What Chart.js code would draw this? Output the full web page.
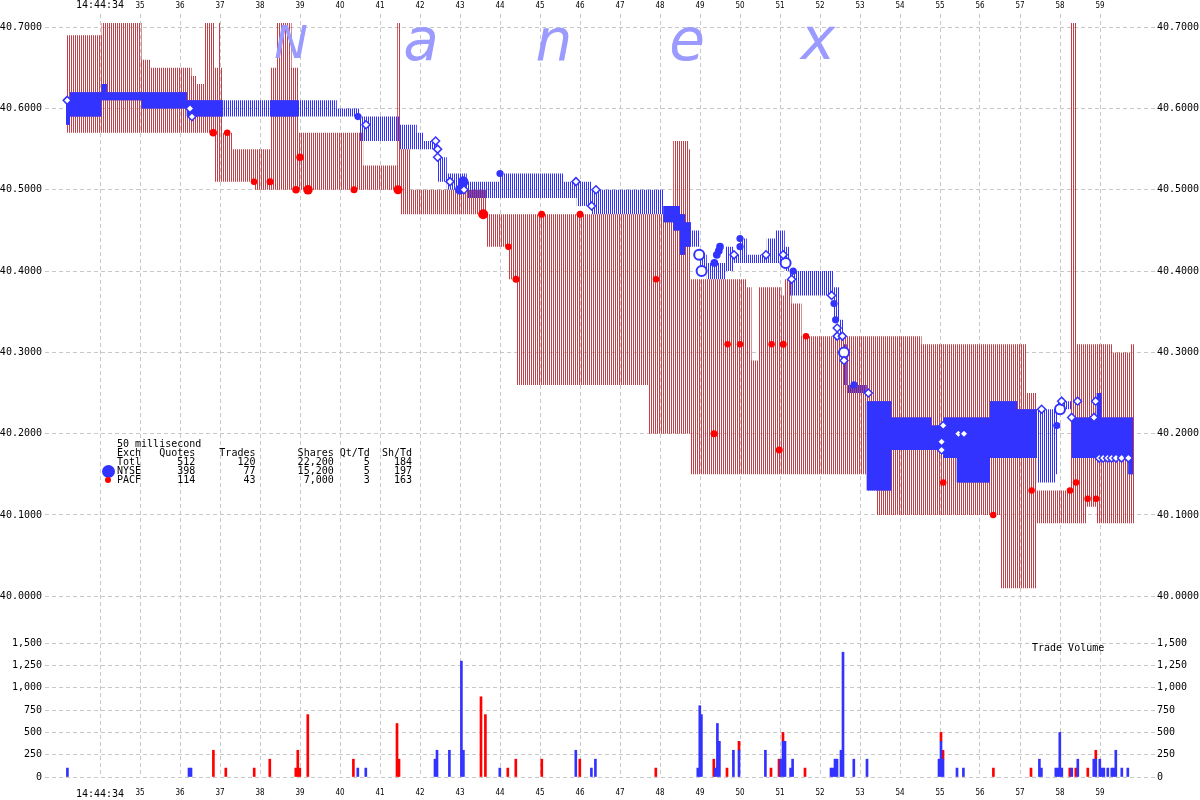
<!DOCTYPE html>
<html lang="en">
<head>
<meta charset="UTF-8">
<title>NYSE / PACF quotes and trades 14:44:34</title>
<script src="https://cdn.jsdelivr.net/npm/chart.js"></script>
<style>
  html, body { margin: 0; padding: 0; background: #fff; }
  #wrap { position: relative; width: 1200px; height: 800px; }
  #wrap canvas { position: absolute; left: 0; top: 0; }
  .mark { position: absolute; width: 80px; text-align: center; color: #9a9aff;
          font-family: 'DejaVu Sans', sans-serif; font-style: italic; }
  .txt { position: absolute; margin: 0; color: #000; white-space: pre;
         font: 10px 'DejaVu Sans Mono', monospace; line-height: 9.2px; }
  .dot { position: absolute; border-radius: 50%; }
</style>
</head>
<body>
<div id="wrap">
  <canvas id="chart" width="1200" height="800"></canvas>

  <div class="mark" style="left:251px;top:20px;font-size:45px;line-height:45px">N</div>
  <div class="mark" style="left:381px;top:11px;font-size:58px;line-height:58px">a</div>
  <div class="mark" style="left:514px;top:11px;font-size:58px;line-height:58px">n</div>
  <div class="mark" style="left:647px;top:11px;font-size:58px;line-height:58px">e</div>
  <div class="mark" style="left:778px;top:10px;font-size:58px;line-height:58px">x</div>

  <pre class="txt" style="left:117px;top:438.6px">50 millisecond
Exch   Quotes    Trades       Shares Qt/Td  Sh/Td
Totl      512       120       22,200     5    184
NYSE      398        77       15,200     5    197
PACF      114        43        7,000     3    163</pre>
  <div class="dot" style="left:102px;top:465px;width:13px;height:13px;background:#3333ff"></div>
  <div class="dot" style="left:105px;top:477px;width:6px;height:6px;background:#ff0000"></div>
  <div class="txt" style="left:1032px;top:642.6px">Trade Volume</div>
</div>

<script>
  // time is seconds after 14:44:00
  const secTicks  = [34,35,36,37,38,39,40,41,42,43,44,45,46,47,48,49,50,51,52,53,54,55,56,57,58,59];
  const secLabels = ['14:44:34','35','36','37','38','39','40','41','42','43','44','45','46','47','48','49','50','51','52','53','54','55','56','57','58','59'];
  const priceTicks = [40.0, 40.1, 40.2, 40.3, 40.4, 40.5, 40.6, 40.7];
  const volTicks   = [0, 250, 500, 750, 1000, 1250, 1500];

  // PACF quote (bid / ask) in steps
  const pacfT   = [33.17,34.04,35.04,35.25,36.29,36.42,36.62,36.87,36.95,37.00,37.05,37.30,37.87,38.27,38.42,38.79,38.96,40.58,41.43,41.50,41.75,43.67,44.21,44.42,47.71,48.33,48.70,48.77,50.17,50.29,50.46,51.04,51.12,51.29,51.54,53.42,54.54,56.52,57.15,57.42,58.27,58.40,58.67,58.92,59.32,59.77,59.85];
  const pacfAsk = [40.69,40.705,40.66,40.65,40.64,40.63,40.705,40.65,40.705,40.65,40.57,40.55,40.55,40.65,40.705,40.65,40.57,40.53,40.705,40.55,40.50,40.47,40.47,40.47,40.47,40.56,40.55,40.39,40.38,40.29,40.38,40.37,40.39,40.36,40.32,40.32,40.31,40.31,40.25,40.13,40.705,40.31,40.31,40.31,40.30,40.31,40.31];
  const pacfBid = [40.57,40.57,40.57,40.57,40.57,40.57,40.57,40.51,40.51,40.51,40.51,40.51,40.50,40.50,40.50,40.50,40.50,40.50,40.50,40.47,40.47,40.43,40.39,40.26,40.20,40.20,40.20,40.15,40.15,40.15,40.15,40.15,40.15,40.15,40.15,40.10,40.10,40.01,40.01,40.09,40.09,40.09,40.11,40.09,40.09,40.09,40.09];

  // NYSE quote in steps; dense = quotes packed tight (drawn solid)
  const nyseT     = [33.15,33.25,34.04,34.17,35.04,36.17,37.08,38.25,38.95,39.92,40.50,41.50,41.92,42.08,42.43,42.67,43.17,44.00,45.58,45.92,46.29,48.08,48.33,48.50,48.63,48.77,49.00,49.17,49.63,49.83,50.00,50.17,50.67,50.90,51.12,51.25,52.33,52.48,52.58,52.67,53.17,53.79,54.79,55.08,55.42,56.25,56.93,57.42,57.88,57.95,58.29,58.92,59.04,59.71,59.83];
  const nyseAsk   = [40.61,40.62,40.63,40.62,40.62,40.61,40.61,40.61,40.61,40.60,40.59,40.58,40.57,40.56,40.54,40.52,40.51,40.52,40.51,40.51,40.50,40.48,40.48,40.47,40.46,40.45,40.42,40.41,40.43,40.42,40.44,40.42,40.44,40.45,40.43,40.40,40.38,40.34,40.31,40.26,40.24,40.22,40.21,40.22,40.22,40.24,40.23,40.23,40.23,40.24,40.22,40.25,40.22,40.22,40.22];
  const nyseBid   = [40.58,40.59,40.61,40.61,40.60,40.59,40.59,40.59,40.59,40.59,40.56,40.55,40.55,40.55,40.51,40.50,40.49,40.49,40.49,40.48,40.47,40.46,40.45,40.42,40.43,40.43,40.40,40.39,40.40,40.41,40.41,40.41,40.41,40.41,40.40,40.37,40.34,40.32,40.26,40.25,40.13,40.18,40.18,40.17,40.14,40.17,40.17,40.14,40.15,40.23,40.17,40.17,40.17,40.15,40.15];
  const nyseDense = [1,1,1,1,1,1,0,1,0,0,0,0,0,0,0,0,0,0,0,0,0,1,1,1,1,0,0,0,0,0,0,0,0,0,0,0,0,0,0,0,1,1,1,1,1,1,1,0,0,0,1,1,1,1,1];

  // PACF trades
  const pacfTradeT  = [36.83,37.18,37.85,38.25,38.90,39.00,39.20,40.35,41.45,43.58,44.21,44.40,45.04,46.00,47.90,49.35,49.69,50.00,50.79,51.08,51.65,50.98,55.08,56.33,57.29,58.25,58.40,58.69,58.90];
  const pacfTradeP  = [40.57,40.57,40.51,40.51,40.50,40.54,40.50,40.50,40.50,40.47,40.43,40.39,40.47,40.47,40.39,40.20,40.31,40.31,40.31,40.31,40.32,40.18,40.14,40.10,40.13,40.13,40.14,40.12,40.12];
  const pacfTradeSz = [300,100,100,200,300,300,700,200,600,900,100,200,200,200,100,200,100,100,100,200,100,200,100,100,100,100,100,100,100];

  // NYSE trades: filled, diamond and ring markers
  const nyseFillT  = [40.45,43.00,43.08,44.00,49.36,49.42,49.47,49.50,50.00,50.00,51.33,52.35,52.39,52.85,57.92];
  const nyseFillP  = [40.59,40.50,40.51,40.52,40.41,40.42,40.425,40.43,40.44,40.43,40.40,40.36,40.34,40.26,40.21];
  const nyseFillSz = [100,600,700,100,200,200,200,200,100,100,100,100,100,100,100];
  const nyseDiaT = [33.18,36.25,36.30,40.65,42.39,42.44,42.44,42.75,43.10,45.90,46.29,46.40,49.85,50.65,51.08,51.29,52.29,52.43,52.43,52.56,52.60,53.21,55.08,55.04,55.04,55.46,55.60,57.54,58.04,58.29,58.44,58.89,58.85,58.98,59.08,59.19,59.29,59.40,59.54,59.71];
  const nyseDiaP = [40.61,40.60,40.59,40.58,40.56,40.55,40.54,40.51,40.50,40.51,40.48,40.50,40.42,40.42,40.42,40.39,40.37,40.33,40.32,40.32,40.29,40.25,40.21,40.19,40.18,40.20,40.20,40.23,40.24,40.22,40.24,40.24,40.22,40.17,40.17,40.17,40.17,40.17,40.17,40.17];
  const nyseRingT = [48.98,49.04,51.14,52.60,58.00];
  const nyseRingP = [40.42,40.40,40.41,40.30,40.23];

  // trade volume per 50 ms
  const nyseVolT = [33.21,36.25,36.30,40.47,40.67,42.40,42.45,42.76,43.06,43.11,44.02,45.92,46.31,46.41,48.97,49.02,49.06,49.41,49.46,49.51,49.86,50.00,50.66,51.04,51.10,51.15,51.29,51.34,52.30,52.35,52.40,52.45,52.55,52.60,52.87,53.20,55.00,55.05,55.10,55.45,55.61,57.51,57.56,57.92,57.97,58.02,58.07,58.32,58.47,58.87,58.92,59.02,59.07,59.12,59.22,59.32,59.37,59.42,59.57,59.72];
  const nyseVol  = [100,100,100,100,100,200,300,300,1300,300,100,300,100,200,100,800,700,100,600,400,300,300,300,200,400,400,100,200,100,100,200,200,300,1400,200,200,200,400,200,100,100,200,100,100,100,500,100,100,200,200,200,200,100,100,100,100,100,300,100,100];
  const pacfVolT = [36.86,37.17,37.88,38.27,38.92,38.97,39.02,39.22,40.36,41.45,41.50,43.55,43.66,44.22,44.42,45.07,46.02,47.92,49.37,49.70,50.00,50.80,51.00,51.10,51.65,55.05,55.10,56.36,57.30,58.27,58.42,58.72,58.92];
  const pacfVol  = [300,100,100,200,100,300,100,700,200,600,200,900,700,100,200,200,200,100,200,100,100,100,200,100,100,100,100,100,100,100,100,100,100];

  const xMin = 32.625, xMax = 60.375;
  const pMin = 39.977, pMax = 40.7162;
  const vMax = 1817.5;

  const canvas = document.getElementById('chart');
  const ctx = canvas.getContext('2d');

  // one-pixel vertical hatching, every other column
  function stripes(color, phase) {
    const c = document.createElement('canvas');
    c.width = 2; c.height = 1;
    const g = c.getContext('2d');
    g.fillStyle = color;
    g.fillRect(phase, 0, 1, 1);
    return ctx.createPattern(c, 'repeat');
  }

  const xy = (ts, vs) => ts.map((t, i) => ({x: t, y: vs[i]}));
  const solidAsk = nyseAsk.map((a, i) => nyseDense[i] ? a : nyseBid[i]);

  function band(data, order, fillColor) {
    return {
      type: 'line', data, xAxisID: 'x', yAxisID: 'y', order,
      stepped: true, borderWidth: 0, pointRadius: 0, pointHoverRadius: 0,
      fill: fillColor ? '-1' : false, backgroundColor: fillColor || 'transparent'
    };
  }

  const mono = {family: 'DejaVu Sans Mono', size: 10};
  const narrow = {family: "'Liberation Sans Narrow', 'DejaVu Sans Condensed', sans-serif", size: 8};
  const gridOpts = {color: '#c8c8c8', lineWidth: 1, drawTicks: false};
  const noGrid = {display: false, drawTicks: false};
  const borderOpts = {display: false, dash: [4, 3]};

  function priceAxis(pos, stack, weight, showGrid) {
    return {
      type: 'linear', position: pos, stack, stackWeight: 601, weight,
      min: pMin, max: pMax,
      grid: showGrid ? gridOpts : noGrid, border: borderOpts,
      ticks: {font: mono, color: '#000', autoSkip: false, padding: pos === 'left' ? 3 : 2,
              callback: v => v.toFixed(4)},
      afterBuildTicks: s => { s.ticks = priceTicks.map(v => ({value: v})); },
      afterFit: s => { s.width = 45; }
    };
  }
  function volAxis(pos, stack, weight, showGrid) {
    return {
      type: 'linear', position: pos, stack, stackWeight: 162, weight,
      min: 0, max: vMax, stacked: true,
      grid: showGrid ? gridOpts : noGrid, border: borderOpts,
      ticks: {font: mono, color: '#000', autoSkip: false, padding: pos === 'left' ? 3 : 2,
              callback: v => v.toLocaleString('en-US')},
      afterBuildTicks: s => { s.ticks = volTicks.map(v => ({value: v})); },
      afterFit: s => { s.width = 45; }
    };
  }
  function timeAxis(pos, height, pad, showGrid) {
    return {
      type: 'linear', position: pos, display: true, min: xMin, max: xMax, offset: false,
      grid: showGrid ? Object.assign({offset: false}, gridOpts) : noGrid,
      border: borderOpts,
      ticks: {
        display: true, color: '#000', padding: pad, autoSkip: false, maxRotation: 0,
        font: c => c.index === 0 ? mono : narrow,
        callback: v => secLabels[secTicks.indexOf(v)]
      },
      afterBuildTicks: s => { s.ticks = secTicks.map(v => ({value: v})); },
      afterFit: s => { s.height = height; }
    };
  }

  new Chart(canvas, {
    type: 'line',
    data: {
      datasets: [
        band(xy(pacfT, pacfAsk), 9),
        band(xy(pacfT, pacfBid), 9, stripes('#c44048', 1)),
        band(xy(nyseT, nyseAsk), 8),
        band(xy(nyseT, nyseBid), 8, stripes('#3030ff', 0)),
        band(xy(nyseT, solidAsk), 7),
        band(xy(nyseT, nyseBid), 7, '#3333ff'),
        {
          type: 'bar', data: xy(nyseVolT, nyseVol), xAxisID: 'x', yAxisID: 'v', order: 6,
          stack: 'vol', barThickness: 2, backgroundColor: '#3333ff', borderWidth: 0
        },
        {
          type: 'bar', data: xy(pacfVolT, pacfVol), xAxisID: 'x', yAxisID: 'v', order: 6,
          stack: 'vol', barThickness: 2, backgroundColor: '#ff0000', borderWidth: 0
        },
        {
          type: 'scatter', data: xy(pacfTradeT, pacfTradeP), xAxisID: 'x', yAxisID: 'y', order: 3,
          pointStyle: 'circle', pointBackgroundColor: '#ff0000', pointBorderWidth: 0,
          pointRadius: c => 3 + Math.min(pacfTradeSz[c.dataIndex], 800) / 400
        },
        {
          type: 'scatter', data: xy(nyseFillT, nyseFillP), xAxisID: 'x', yAxisID: 'y', order: 2,
          pointStyle: 'circle', pointBackgroundColor: '#3333ff', pointBorderWidth: 0,
          pointRadius: c => 3.3 + nyseFillSz[c.dataIndex] / 350
        },
        {
          type: 'scatter', data: xy(nyseRingT, nyseRingP), xAxisID: 'x', yAxisID: 'y', order: 1,
          pointStyle: 'circle', pointBackgroundColor: '#ffffff', pointBorderColor: '#3333ff',
          pointBorderWidth: 2, pointRadius: 5
        },
        {
          type: 'scatter', data: xy(nyseDiaT, nyseDiaP), xAxisID: 'x', yAxisID: 'y', order: 0,
          pointStyle: 'rectRot', pointBackgroundColor: '#ffffff', pointBorderColor: '#3333ff',
          pointBorderWidth: 1.5, pointRadius: 4
        },
        // keeps the top time axis in use
        {type: 'scatter', data: [], xAxisID: 'xt', yAxisID: 'y'}
      ]
    },
    options: {
      responsive: false,
      animation: false,
      events: [],
      layout: {padding: 0},
      plugins: {legend: {display: false}, tooltip: {enabled: false}},
      scales: {
        x: timeAxis('bottom', 23, 11, true),
        xt: timeAxis('top', 14, 3, false),
        y: priceAxis('left', 'L', 2, true),
        v: volAxis('left', 'L', 1, true),
        yR: priceAxis('right', 'R', 1, false),
        vR: volAxis('right', 'R', 2, false)
      }
    }
  });
</script>
</body>
</html>
